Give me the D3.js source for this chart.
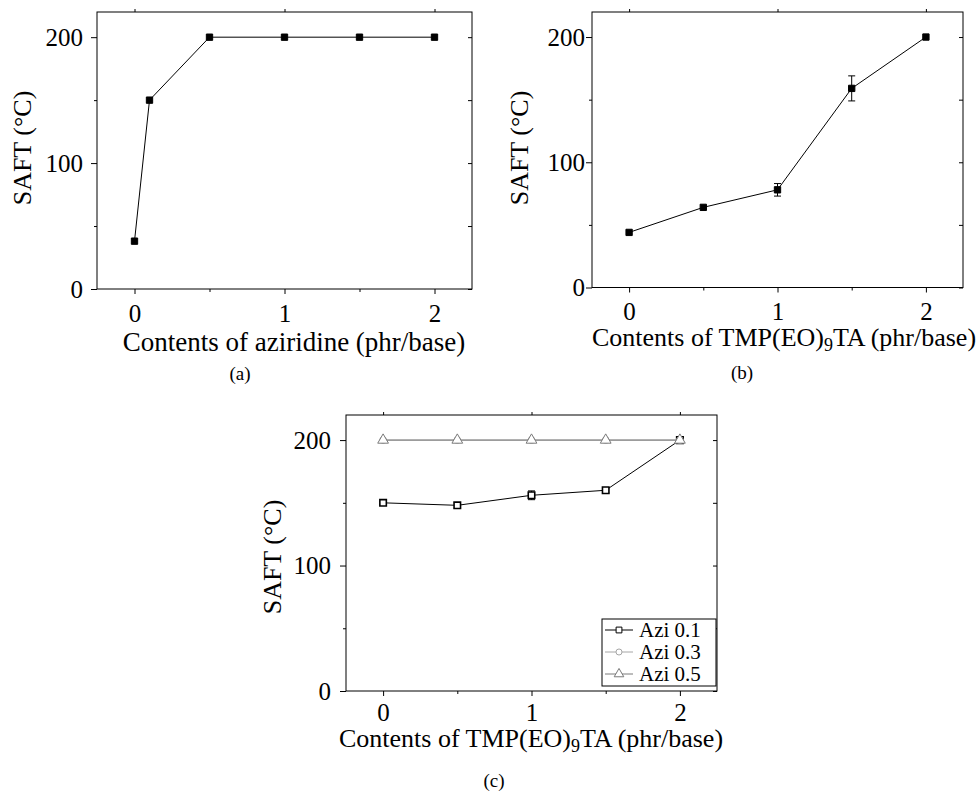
<!DOCTYPE html>
<html>
<head>
<meta charset="utf-8">
<script src="https://cdn.jsdelivr.net/npm/d3@7"></script>
<style>
  body { margin: 0; background: #fff; }
  svg { display: block; font-family: "Liberation Serif", "Times New Roman", serif; }
</style>
</head>
<body>
<svg width="978" height="794"></svg>
<script>
// (a) SAFT vs aziridine content
var aziX = [0, 0.1, 0.5, 1, 1.5, 2];
var aziSaft = [38, 150, 200, 200, 200, 200];

// (b) SAFT vs TMP(EO)9TA content
var tmpX = [0, 0.5, 1, 1.5, 2];
var tmpSaft = [44, 64, 78, 159, 200];
var tmpErr = [0, 0, 5, 10, 0];

// (c) SAFT vs TMP(EO)9TA at three aziridine levels
var mixX = [0, 0.5, 1, 1.5, 2];
var azi01 = [150, 148, 156, 160, 200];
var azi01Err = [1, 2, 3.5, 2, 0];
var azi03 = [200, 200, 200, 200, 200];
var azi05 = [200, 200, 200, 200, 200];
var seriesNames = ["Azi 0.1", "Azi 0.3", "Azi 0.5"];

var xTicks = [0, 1, 2];
var xMinor = [0.5, 1.5];
var yTicks = [0, 100, 200];
var yMinor = [50, 150];

var svg = d3.select("svg");

function panel(p) {
  var x = d3.scaleLinear().domain([-0.25, 2.25]).range([p.left, p.right]);
  var y = d3.scaleLinear().domain([0, 220]).range([p.bottom, p.top]);
  var g = svg.append("g");

  // bottom axis
  var bx = g.append("g").attr("transform", "translate(0," + p.bottom + ")");
  bx.call(d3.axisBottom(x).tickValues(xTicks).tickSize(5).tickFormat(d3.format("d")));
  bx.append("g").call(d3.axisBottom(x).tickValues(xMinor).tickSize(3).tickFormat(""));
  bx.selectAll(".domain").remove();
  bx.selectAll("text")
      .attr("y", p.xLabelY - p.bottom).attr("dy", null)
      .attr("fill", "#000").attr("font-size", "25px")
      .attr("font-family", "Liberation Serif, serif");

  // top mirror ticks
  var tx = g.append("g").attr("transform", "translate(0," + p.top + ")");
  tx.call(d3.axisTop(x).tickValues(xTicks).tickSize(3).tickFormat(""));
  tx.selectAll(".domain").remove();

  // left axis
  var ly = g.append("g").attr("transform", "translate(" + p.left + ",0)");
  ly.call(d3.axisLeft(y).tickValues(yTicks).tickSize(6).tickFormat(d3.format("d")));
  ly.append("g").call(d3.axisLeft(y).tickValues(yMinor).tickSize(3).tickFormat(""));
  ly.selectAll(".domain").remove();
  ly.selectAll("text")
      .attr("x", -p.yLabelGap).attr("dy", "0.33em")
      .attr("fill", "#000").attr("font-size", "25px")
      .attr("font-family", "Liberation Serif, serif");

  // right mirror ticks (inward)
  var ry = g.append("g").attr("transform", "translate(" + p.right + ",0)");
  ry.call(d3.axisLeft(y).tickValues(yTicks.concat(yMinor)).tickSize(-4).tickFormat(""));
  ry.selectAll(".domain").remove();
  ry.selectAll("line").attr("x2", -4);

  g.selectAll(".tick line").attr("stroke", "#000");

  // frame
  g.append("rect")
      .attr("x", p.left).attr("y", p.top)
      .attr("width", p.right - p.left).attr("height", p.bottom - p.top)
      .attr("fill", "none").attr("stroke", "#000").attr("stroke-width", 1);

  // y title
  g.append("text")
      .attr("transform", "translate(" + p.yTitleX + "," + p.yTitleY + ") rotate(-90)")
      .attr("text-anchor", "middle").attr("font-size", "26px")
      .text("SAFT (\u00B0C)");

  // x title
  var t = g.append("text")
      .attr("x", p.xTitleX).attr("y", p.xTitleY)
      .attr("text-anchor", "middle").attr("font-size", p.xTitleSize);
  if (p.sub) {
    t.append("tspan").text("Contents of TMP(EO)");
    t.append("tspan").attr("font-size", "18px").attr("dy", 5).text("9");
    t.append("tspan").attr("dy", -5).text("TA (phr/base)");
  } else {
    t.text("Contents of aziridine (phr/base)");
  }

  // caption
  g.append("text")
      .attr("x", p.capX).attr("y", p.capY)
      .attr("text-anchor", "middle").attr("font-size", "19px")
      .text(p.caption);

  return {g: g, x: x, y: y};
}

function lineOf(xs, ys) {
  return xs.map(function(d, i) { return [d, ys[i]]; });
}

function drawSeries(P, xs, ys, errs, opt) {
  var pts = lineOf(xs, ys);
  var line = d3.line().x(function(d) { return P.x(d[0]); }).y(function(d) { return P.y(d[1]); });
  P.g.append("path").datum(pts)
      .attr("fill", "none").attr("stroke", opt.color).attr("stroke-width", 1)
      .attr("d", line);

  if (errs) {
    var eb = P.g.append("g").attr("stroke", opt.color).attr("stroke-width", 1);
    pts.forEach(function(d, i) {
      if (!errs[i]) return;
      var cx = P.x(d[0]), y1 = P.y(d[1] - errs[i]), y2 = P.y(d[1] + errs[i]);
      eb.append("line").attr("x1", cx).attr("x2", cx).attr("y1", y1).attr("y2", y2);
      eb.append("line").attr("x1", cx - 3.5).attr("x2", cx + 3.5).attr("y1", y1).attr("y2", y1);
      eb.append("line").attr("x1", cx - 3.5).attr("x2", cx + 3.5).attr("y1", y2).attr("y2", y2);
    });
  }

  P.g.selectAll(null).data(pts).enter().append("path")
      .attr("transform", function(d) { return "translate(" + P.x(d[0]) + "," + P.y(d[1]) + ")"; })
      .attr("d", d3.symbol(opt.symbol, opt.size))
      .attr("fill", opt.fill).attr("stroke", opt.color).attr("stroke-width", opt.sw || 1);
}

// (a)
var A = panel({left: 97, right: 472, top: 12, bottom: 289, yLabelGap: 14,
  yTitleX: 31, yTitleY: 148, xLabelY: 322, xTitleX: 294, xTitleY: 351, xTitleSize: "27px",
  capX: 240, capY: 380, caption: "(a)", sub: false});
drawSeries(A, aziX, aziSaft, null, {color: "#000", fill: "#000", symbol: d3.symbolSquare, size: 40});

// (b)
var B = panel({left: 592, right: 963, top: 12, bottom: 287.5, yLabelGap: 7,
  yTitleX: 528, yTitleY: 148, xLabelY: 320, xTitleX: 784, xTitleY: 346, xTitleSize: "26px",
  capX: 742, capY: 379, caption: "(b)", sub: true});
drawSeries(B, tmpX, tmpSaft, tmpErr, {color: "#000", fill: "#000", symbol: d3.symbolSquare, size: 40});

// (c)
var C = panel({left: 346, right: 717, top: 415, bottom: 691, yLabelGap: 15,
  yTitleX: 281, yTitleY: 557, xLabelY: 721, xTitleX: 531, xTitleY: 747, xTitleSize: "26px",
  capX: 494, capY: 787, caption: "(c)", sub: true});

var cSeries = [
  {name: seriesNames[0], ys: azi01, errs: azi01Err, color: "#000", symbol: d3.symbolSquare, size: 42, sw: 1.6},
  {name: seriesNames[1], ys: azi03, errs: null, color: "#a6a6a6", symbol: d3.symbolCircle, size: 36, sw: 1},
  {name: seriesNames[2], ys: azi05, errs: null, color: "#7a7a7a", symbol: d3.symbolTriangle, size: 50, sw: 1}
];
cSeries.forEach(function(s) {
  drawSeries(C, mixX, s.ys, s.errs, {color: s.color, fill: "#fff", symbol: s.symbol, size: s.size, sw: s.sw});
});

// legend
var leg = C.g.append("g");
leg.append("rect").attr("x", 602).attr("y", 619).attr("width", 114).attr("height", 67)
    .attr("fill", "#fff").attr("stroke", "#000").attr("stroke-width", 1);
cSeries.forEach(function(s, i) {
  var ly = 630 + i * 22;
  leg.append("line").attr("x1", 605).attr("x2", 633).attr("y1", ly).attr("y2", ly)
      .attr("stroke", s.color).attr("stroke-width", 1);
  leg.append("path").attr("transform", "translate(619," + ly + ")")
      .attr("d", d3.symbol(s.symbol, s.size * 0.8))
      .attr("fill", "#fff").attr("stroke", s.color).attr("stroke-width", 1);
  leg.append("text").attr("x", 639).attr("y", ly + 7)
      .attr("font-size", "21px").text(s.name);
});
</script>
</body>
</html>
